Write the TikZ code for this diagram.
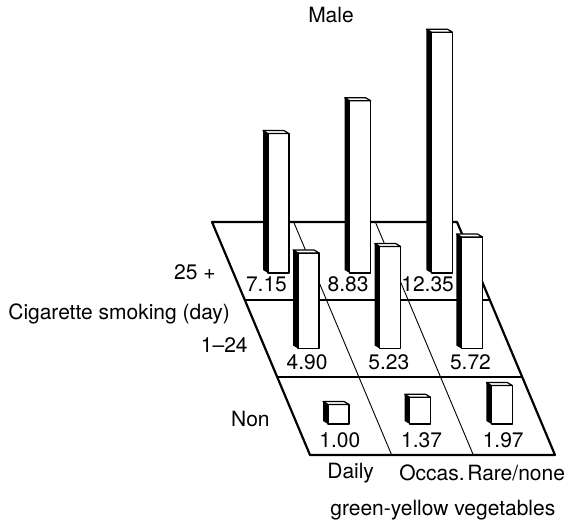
\documentclass[tikz,border=0pt]{standalone}
\usepackage{fontspec}
\setmainfont{TeX Gyre Heros}
\usetikzlibrary{calc}

% one 3d bar: outer left x, base y, value
\newcommand{\smokebar}[3]{%
  \pgfmathsetmacro{\bh}{19.5*#3}
  \fill[barside] (#1+5,#2) -- (#1+5,#2-\bh) -- (#1,#2-\bh-3) -- (#1,#2-3) -- cycle;
  \filldraw[barface] (#1+5,#2) rectangle (#1+26,#2-\bh);
  \filldraw[barface] (#1+5,#2-\bh) -- (#1+26,#2-\bh) -- (#1+21,#2-\bh-3) -- (#1,#2-\bh-3) -- cycle;
}

\begin{document}
\begin{tikzpicture}[x=0.5pt, y=-0.5pt,
    floorline/.style={line width=1.1pt, line join=round},
    divline/.style={line width=0.45pt},
    barface/.style={draw, fill=white, line width=0.6pt, line join=round},
    barside/.style={fill=black},
    txt/.style={inner sep=0pt, font=\fontsize{10.5}{12}\selectfont}]
    \useasboundingbox (0,0) rectangle (565,528);
    % floor grid
    \coordinate (FL) at (310,455); \coordinate (FR) at (555,455);
    \coordinate (BL) at (212,222); \coordinate (BR) at (457,222);
    \foreach \c in {1,2}
        \draw[divline] ($(BL)!\c/3!(BR)$) -- ($(FL)!\c/3!(FR)$);
    \foreach \r in {1,2}
        \draw[floorline] ($(FL)!\r/3!(BL)$) -- ($(FR)!\r/3!(BR)$);
    \draw[floorline] (FL) -- (FR) -- (BR) -- (BL) -- cycle;
    % bars and values, back row first
    \foreach \r/\c/\v in {2/0/7.15, 2/1/8.83, 2/2/12.35,
                          1/0/4.90, 1/1/5.23, 1/2/5.72,
                          0/0/1.00, 0/1/1.37, 0/2/1.97} {
        \pgfmathsetmacro{\bx}{323-30*\r+81.7*\c}
        \pgfmathsetmacro{\by}{424-75.5*\r}
        \pgfmathsetmacro{\off}{\r==2 ? (\c==2 ? -7 : 1) : 9}
        \smokebar{\bx}{\by}{\v}
        \node[txt, anchor=west] at (310-32.7*\r+81.67*\c+\off, 440-77.7*\r) {\v};
    }
    % axis texts
    \node[txt] (male) at (331,15) {Male};
    \node[txt, anchor=east] (heavy) at (216,272) {25 +};
    \node[txt, anchor=west] (smoke) at (8,314) {Cigarette smoking (day)};
    \node[txt, anchor=east] (light) at (248,345) {1--24};
    \node[txt, anchor=east] (non) at (270,419) {Non};
    \node[txt, anchor=west] (daily) at (327,473) {Daily};
    \node[txt, anchor=west] (occas) at (399,473) {Occas.};
    \node[txt, anchor=west] (rare) at (467,473) {Rare/none};
    \node[txt, anchor=west] (veg) at (330,510) {green-yellow vegetables};
\end{tikzpicture}
\end{document}
